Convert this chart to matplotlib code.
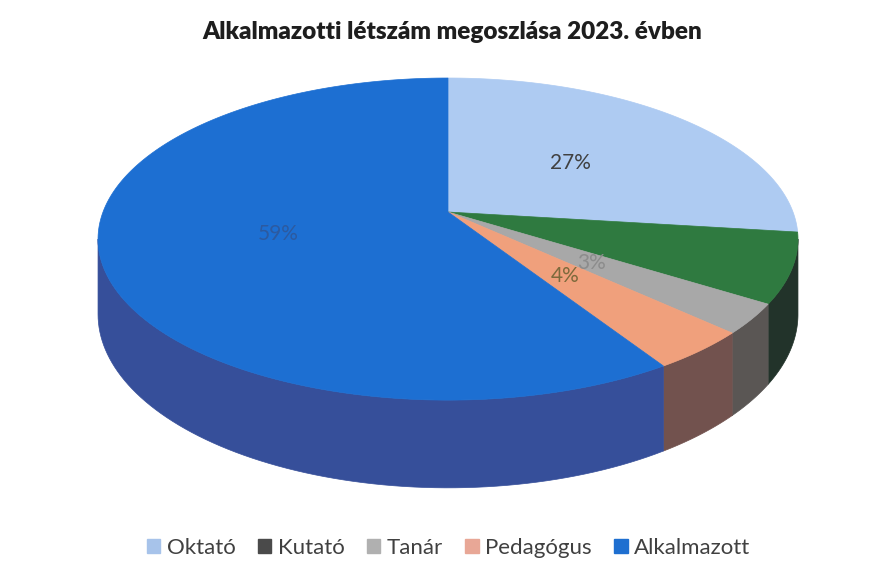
import numpy as np
import matplotlib
matplotlib.use('Agg')
import matplotlib.pyplot as plt
from matplotlib.patches import Polygon, Patch

plt.rcParams['font.family'] = ['Lato', 'DejaVu Sans']

# data (percent)
labels = ['Oktató', 'Kutató', 'Tanár', 'Pedagógus', 'Alkalmazott']
values = [27, 7, 3, 4, 59]
shown = ['27%', '', '3%', '4%', '59%']

top_colors = ['#aecbf2', '#2f7a40', '#a8a8a8', '#f0a07c', '#1d6fd2']
side_colors = ['#7d93b5', '#22332a', '#5a5654', '#72524e', '#364f9a']
legend_colors = ['#a7c3ea', '#4a4a4a', '#b0b0b0', '#e8a796', '#1e6fd0']
label_colors = ['#404040', '#2f7a40', '#8c8c8c', '#7d6a3c', '#2c5aa0']

# projection of the tilted pie (pixel space)
cx, cy = 448, 212
a, b, k = 345, 156.5, 0.168
depth = 73


def proj(t, r=1.0, z=0.0):
    u = r * np.cos(t)
    v = r * np.sin(t)
    s = 1.0 / (1.0 + k * v)
    return cx + a * u * s, cy - b * v * s + depth * z * s


fig = plt.figure(figsize=(8.73, 5.84), dpi=100)
ax = fig.add_axes([0, 0, 1, 1])
ax.set_xlim(0, 873)
ax.set_ylim(584, 0)
ax.axis('off')

fracs = np.array(values) / sum(values)
ends = np.pi / 2 - 2 * np.pi * np.cumsum(fracs)
starts = np.concatenate([[np.pi / 2], ends[:-1]])

# visible front wall between the two silhouette tangents
vis_lo = -np.pi + np.arcsin(k)
vis_hi = -np.arcsin(k)

for i in range(len(values)):
    t0, t1 = ends[i], starts[i]  # t0 < t1
    for shift in (0, -2 * np.pi, 2 * np.pi):
        lo = max(t0 + shift, vis_lo)
        hi = min(t1 + shift, vis_hi)
        if hi > lo:
            ts = np.linspace(lo, hi, 80)
            xt, yt = proj(ts)
            xb, yb = proj(ts[::-1], z=1.0)
            pts = np.column_stack([np.concatenate([xt, xb]), np.concatenate([yt, yb])])
            ax.add_patch(Polygon(pts, closed=True, fc=side_colors[i], ec=side_colors[i], lw=0.5))

for i in range(len(values)):
    ts = np.linspace(starts[i], ends[i], 200)
    xs, ys = proj(ts)
    pts = np.column_stack([np.concatenate([[cx], xs]), np.concatenate([[cy], ys])])
    ax.add_patch(Polygon(pts, closed=True, fc=top_colors[i], ec=top_colors[i], lw=0.5))

for i in range(len(values)):
    if not shown[i]:
        continue
    mid = (starts[i] + ends[i]) / 2
    x, y = proj(mid, r=0.5)
    ax.text(x, y, shown[i], ha='center', va='center', fontsize=15,
            color=label_colors[i])

ax.text(452, 32, 'Alkalmazotti létszám megoszlása 2023. évben', ha='center',
        va='center', fontsize=17.5, fontweight='heavy', color='#1e1e1e')

handles = [Patch(fc=c, ec=c) for c in legend_colors]
fig.legend(handles, labels, loc='center', bbox_to_anchor=(0.514, 0.062), ncol=5,
           frameon=False, fontsize=16, handlelength=0.6, handleheight=0.6,
           handletextpad=0.3, columnspacing=1.0, labelcolor='#404040')

fig.savefig('out.png', dpi=100)
